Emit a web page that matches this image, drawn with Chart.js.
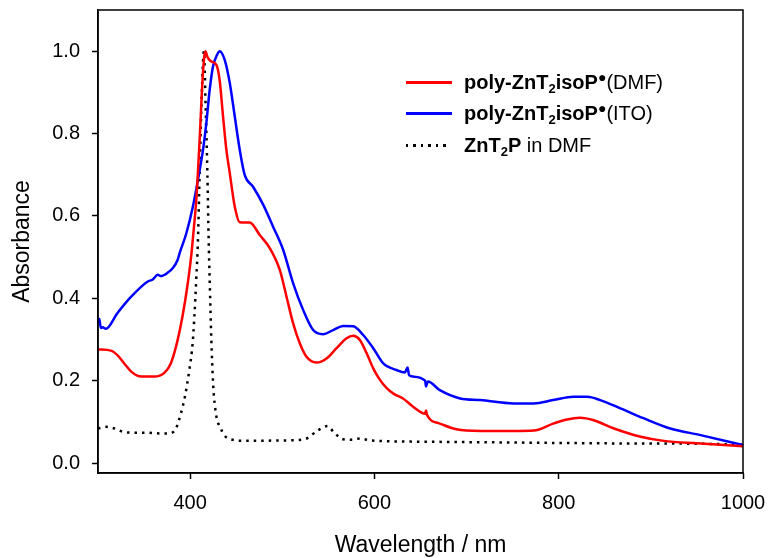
<!DOCTYPE html>
<html>
<head>
<meta charset="utf-8">
<script src="https://cdn.jsdelivr.net/npm/chart.js@4.4.1/dist/chart.umd.min.js"></script>
<style>
  html, body { margin: 0; padding: 0; background: #fff; }
  #wrap { position: relative; width: 769px; height: 558px; }
  #legend { position: absolute; left: 0; top: 0; font-family: "Liberation Sans", Arial, sans-serif; font-size: 20px; color: #000; }
  .row { position: absolute; left: 406px; white-space: nowrap; height: 24px; line-height: 24px; }
  .swatch { position: absolute; left: 0; top: 11px; width: 46px; height: 2.5px; }
  .dots { background: repeating-linear-gradient(90deg, #000 0 2.5px, transparent 2.5px 7.5px); height: 2.5px; width: 42px; }
  .lbl { position: absolute; left: 58px; top: 0; }
  .lbl sub { font-size: 0.65em; vertical-align: -0.3em; line-height: 0; }
  .lbl sup { font-size: 0.7em; vertical-align: 0.5em; line-height: 0; }
</style>
</head>
<body>
<div id="wrap">
  <canvas id="myChart" width="769" height="558"></canvas>
  <div id="legend"></div>
</div>
<script>
// poly-ZnT2isoP (DMF)
const dmfWl  = [300, 314, 321, 328.5, 336, 347, 361, 372, 379, 386, 392, 397, 401, 404, 406.7, 410.3, 413.9, 416.5, 419, 423, 428.5, 432, 435.7, 439.3, 443, 448.4, 453.8, 464.7, 475.5, 486.4, 497.3, 504.6, 511.7, 519, 526.3, 537.2, 548, 558.9, 569.8, 577, 584.2, 591.5, 598.7, 606, 613.3, 621, 631, 642, 655, 656, 657, 671, 689, 715, 751, 773, 794, 809, 823, 838, 860, 889, 914, 950, 1000];
const dmfAbs = [0.276, 0.273, 0.262, 0.242, 0.222, 0.21, 0.21, 0.219, 0.242, 0.295, 0.36, 0.43, 0.5, 0.57, 0.64, 0.785, 0.947, 1.0, 0.985, 0.975, 0.967, 0.93, 0.842, 0.761, 0.704, 0.623, 0.585, 0.584, 0.554, 0.522, 0.469, 0.404, 0.34, 0.291, 0.258, 0.244, 0.254, 0.279, 0.303, 0.309, 0.299, 0.267, 0.23, 0.202, 0.182, 0.168, 0.157, 0.137, 0.12, 0.128, 0.117, 0.096, 0.082, 0.078, 0.078, 0.079, 0.096, 0.106, 0.11, 0.104, 0.084, 0.064, 0.054, 0.048, 0.041];

// poly-ZnT2isoP (ITO)
const itoWl  = [300, 301.5, 303, 305, 308.5, 321, 336, 354, 359, 365, 368, 375.5, 381, 386.4, 388.6, 395.9, 403, 408.5, 414, 417.6, 421.2, 424.8, 429, 432, 437.5, 443, 448.4, 453.8, 459.2, 468.3, 479.1, 490, 500.9, 511.7, 522.6, 533.5, 544.3, 555.2, 566.1, 577, 587.8, 598.7, 609.6, 624, 633, 636, 637.5, 642, 655, 656, 658, 671, 693, 715, 751, 773, 794, 816, 831, 845, 867, 892, 921, 954, 1000];
const itoAbs = [0.34, 0.35, 0.328, 0.33, 0.326, 0.364, 0.404, 0.441, 0.445, 0.457, 0.454, 0.462, 0.473, 0.493, 0.51, 0.558, 0.623, 0.688, 0.761, 0.826, 0.906, 0.963, 0.99, 1.0, 0.979, 0.923, 0.842, 0.761, 0.7, 0.671, 0.628, 0.574, 0.518, 0.437, 0.372, 0.323, 0.313, 0.323, 0.333, 0.332, 0.311, 0.279, 0.242, 0.226, 0.22, 0.232, 0.214, 0.21, 0.2, 0.186, 0.198, 0.177, 0.157, 0.153, 0.145, 0.145, 0.153, 0.161, 0.161, 0.153, 0.133, 0.109, 0.084, 0.068, 0.044];

// ZnT2P in DMF
const refWl  = [300, 309, 318, 327, 336, 350, 368, 377, 384.6, 390, 394.3, 399.1, 402.7, 404.6, 406.5, 408.5, 410.3, 412.2, 415, 416.8, 418.7, 420.1, 421.2, 423, 425, 428, 433, 441, 462, 499, 524, 539, 549, 557, 566, 575, 585, 595, 650, 750, 850, 950, 1000];
const refAbs = [0.084, 0.088, 0.084, 0.076, 0.074, 0.074, 0.072, 0.072, 0.084, 0.121, 0.161, 0.226, 0.291, 0.356, 0.44, 0.542, 0.704, 0.866, 1.0, 0.866, 0.704, 0.542, 0.445, 0.3, 0.19, 0.12, 0.085, 0.06, 0.054, 0.055, 0.058, 0.08, 0.09, 0.072, 0.058, 0.057, 0.06, 0.055, 0.052, 0.05, 0.048, 0.047, 0.045];

const seriesLabels = [
  "<b>poly-ZnT<sub>2</sub>isoP<sup>&#9679;</sup></b>(DMF)",
  "<b>poly-ZnT<sub>2</sub>isoP<sup>&#9679;</sup></b>(ITO)",
  "<b>ZnT<sub>2</sub>P</b> in DMF"
];
const seriesNames = ["poly-ZnT2isoP(DMF)", "poly-ZnT2isoP(ITO)", "ZnT2P in DMF"];
const seriesColors = ["#ff0000", "#0000ff", "#000000"];

const xTicks = [400, 600, 800, 1000];
const yTicks = [0.0, 0.2, 0.4, 0.6, 0.8, 1.0];

const font = "'Liberation Sans', Arial, sans-serif";

function pts(xs, ys) {
  return xs.map((x, i) => ({ x: x, y: ys[i] }));
}

// frame round the plot area
const frame = {
  id: "frame",
  afterDraw(chart) {
    const a = chart.chartArea;
    const ctx = chart.ctx;
    ctx.save();
    ctx.strokeStyle = "#000";
    ctx.lineWidth = 1.5;
    ctx.strokeRect(a.left, a.top, a.right - a.left, a.bottom - a.top);
    ctx.restore();
  }
};

new Chart(document.getElementById("myChart"), {
  type: "line",
  data: {
    datasets: [
      { label: seriesNames[0], data: pts(dmfWl, dmfAbs), borderColor: seriesColors[0], borderWidth: 2.5 },
      { label: seriesNames[1], data: pts(itoWl, itoAbs), borderColor: seriesColors[1], borderWidth: 2.5 },
      { label: seriesNames[2], data: pts(refWl, refAbs), borderColor: seriesColors[2], borderWidth: 2.5, borderDash: [2.5, 5] }
    ]
  },
  options: {
    responsive: false,
    animation: false,
    events: [],
    elements: { point: { radius: 0 }, line: { cubicInterpolationMode: "monotone" } },
    layout: { padding: { top: 10, right: 26, left: 0, bottom: 0 } },
    plugins: { legend: { display: false }, tooltip: { enabled: false } },
    scales: {
      x: {
        type: "linear",
        min: 300,
        max: 1000,
        afterBuildTicks: s => { s.ticks = xTicks.map(v => ({ value: v })); },
        afterFit: s => { s.height = 85; s.paddingLeft = 0; s.paddingRight = 0; },
        grid: { drawOnChartArea: false, drawTicks: true, tickLength: 6, tickColor: "#000", tickWidth: 1.5 },
        border: { color: "#000", width: 1.5 },
        ticks: { color: "#000", padding: 12, font: { family: font, size: 20 }, maxRotation: 0, callback: v => String(v) },
        title: { display: true, text: "Wavelength / nm", color: "#000", font: { family: font, size: 23, lineHeight: 1.1 }, padding: { top: 0, bottom: 0 } }
      },
      y: {
        min: -0.024,
        max: 1.1,
        afterBuildTicks: s => { s.ticks = yTicks.map(v => ({ value: v })); },
        afterFit: s => { s.width = 98; s.paddingTop = 0; s.paddingBottom = 0; },
        grid: { drawOnChartArea: false, drawTicks: true, tickLength: 6, tickColor: "#000", tickWidth: 1.5 },
        border: { color: "#000", width: 1.5 },
        ticks: { color: "#000", padding: 12, font: { family: font, size: 20 }, callback: v => v.toFixed(1) },
        title: { display: true, text: "Absorbance", color: "#000", font: { family: font, size: 23, lineHeight: 1.1 }, padding: { top: 10, bottom: 0 } }
      }
    }
  },
  plugins: [frame]
});

// legend drawn as html so the sub and superscripts stay real text
const legendTops = [70, 101, 133];
const legend = document.getElementById("legend");
seriesLabels.forEach((html, i) => {
  const row = document.createElement("div");
  row.className = "row";
  row.style.top = legendTops[i] + "px";
  const sw = document.createElement("span");
  sw.className = i === 2 ? "swatch dots" : "swatch";
  if (i !== 2) sw.style.background = seriesColors[i];
  const lbl = document.createElement("span");
  lbl.className = "lbl";
  lbl.innerHTML = html;
  row.appendChild(sw);
  row.appendChild(lbl);
  legend.appendChild(row);
});
</script>
</body>
</html>
